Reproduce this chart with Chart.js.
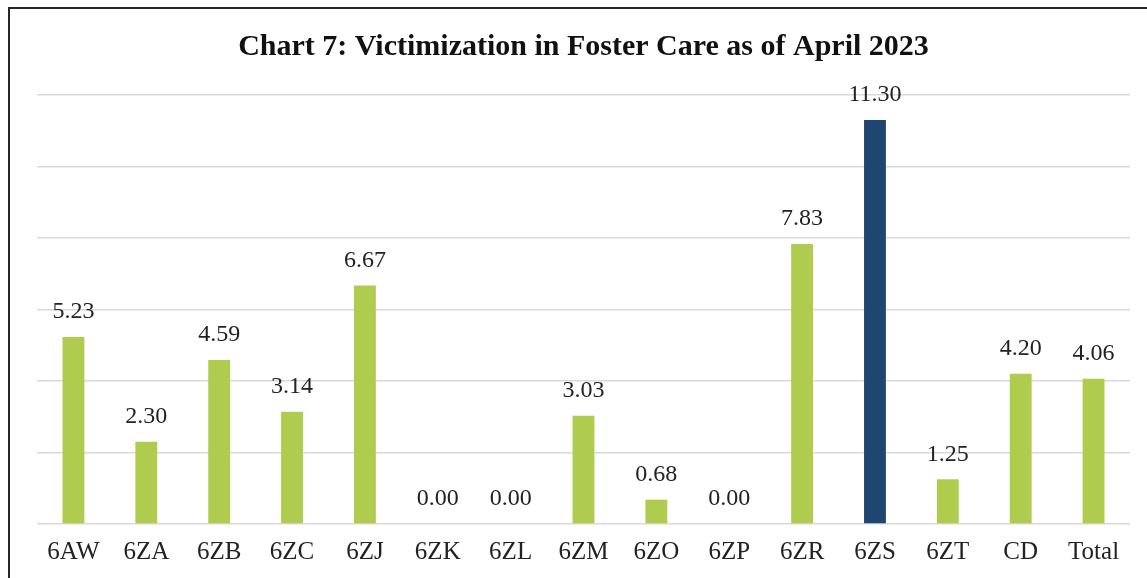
<!DOCTYPE html>
<html>
<head>
<meta charset="utf-8">
<script src="https://cdn.jsdelivr.net/npm/chart.js@4"></script>
<style>
    body { margin: 0; background: #fff; overflow: hidden; }
    #frame {
        position: absolute; left: 8px; top: 7px;
        width: 1200px; height: 640px;
        border: 2px solid #262626;
    }
    #wrap { position: absolute; left: 0; top: 0; width: 1147px; height: 578px; }
</style>
</head>
<body>
<div id="frame"></div>
<div id="wrap"><canvas id="myChart" width="1147" height="578"></canvas></div>
<script>
const categories = ["6AW", "6ZA", "6ZB", "6ZC", "6ZJ", "6ZK", "6ZL", "6ZM", "6ZO", "6ZP", "6ZR", "6ZS", "6ZT", "CD", "Total"];
const rates = [5.23, 2.30, 4.59, 3.14, 6.67, 0.00, 0.00, 3.03, 0.68, 0.00, 7.83, 11.30, 1.25, 4.20, 4.06];
const highlight = "6ZS";

const green = "#b0cc4e";
const navy = "#1f4670";
const serif = "'Liberation Serif', 'Times New Roman', serif";

// draw the value above each bar
const valueLabels = {
    id: "valueLabels",
    afterDatasetsDraw(chart) {
        const ctx = chart.ctx;
        const meta = chart.getDatasetMeta(0);
        ctx.save();
        ctx.font = "24px " + serif;
        ctx.fillStyle = "#222";
        ctx.textAlign = "center";
        ctx.textBaseline = "middle";
        meta.data.forEach((bar, i) => {
            ctx.fillText(rates[i].toFixed(2), bar.x, bar.y - 25);
        });
        ctx.restore();
    },
};

new Chart(document.getElementById("myChart"), {
    type: "bar",
    data: {
        labels: categories,
        datasets: [
            {
                data: rates,
                backgroundColor: categories.map((c) => (c === highlight ? navy : green)),
                barPercentage: 0.3,
                categoryPercentage: 1,
            },
        ],
    },
    options: {
        responsive: false,
        animation: false,
        layout: { padding: { left: 37, right: 17, top: 0, bottom: 0 } },
        scales: {
            x: {
                grid: { display: false, drawTicks: false },
                border: { display: false },
                ticks: { font: { family: serif, size: 25 }, color: "#222", padding: 13 },
                afterFit: (s) => { s.height = 54; },
            },
            y: {
                min: 0,
                max: 12,
                ticks: { display: false, stepSize: 2 },
                border: { display: false },
                grid: { color: "#d9d9d9", lineWidth: 1.5, drawTicks: false },
                afterFit: (s) => { s.width = 0; },
            },
        },
        plugins: {
            legend: { display: false },
            tooltip: { enabled: false },
            title: {
                display: true,
                text: "Chart 7: Victimization in Foster Care as of April 2023",
                font: { family: serif, size: 30, weight: "bold" },
                color: "#111",
                padding: { top: 29, bottom: 30 },
            },
        },
    },
    plugins: [valueLabels],
});
</script>
</body>
</html>
